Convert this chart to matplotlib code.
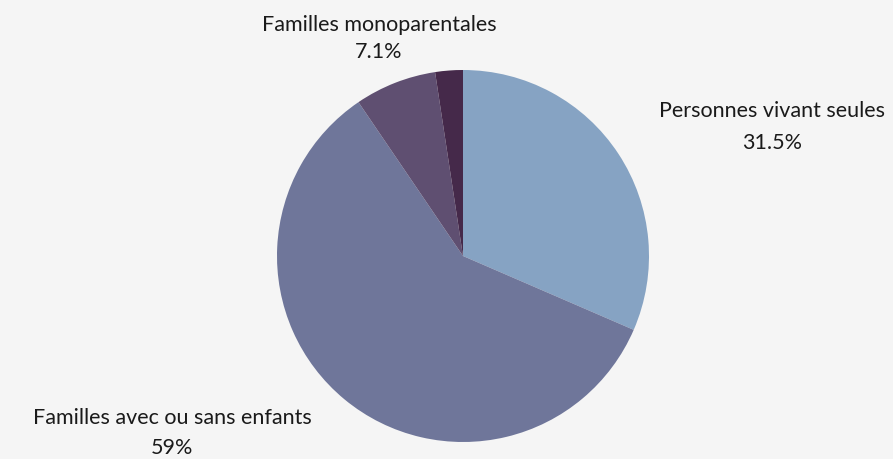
import matplotlib
matplotlib.use("Agg")
import matplotlib.pyplot as plt

categories = ["Personnes vivant seules", "Familles avec ou sans enfants", "Familles monoparentales", "Autres"]
values = [31.5, 59.0, 7.1, 2.4]
value_labels = ["31.5%", "59%", "7.1%", None]
colors = ["#86A3C3", "#6F769A", "#5F4F71", "#45294A"]

W, H = 893, 459
fig = plt.figure(figsize=(W / 100, H / 100), dpi=100)
fig.patch.set_facecolor("#F5F5F5")
ax = fig.add_axes([0, 0, 1, 1])
ax.set_facecolor("#F5F5F5")
ax.axis("off")

ax.pie(values, colors=colors, startangle=90, counterclock=False,
       center=(463, H - 256), radius=186, wedgeprops=dict(linewidth=0))
ax.set_xlim(0, W)
ax.set_ylim(0, H)
ax.set_aspect("equal")
ax.axis("off")

font = dict(family=["Lato", "DejaVu Sans"], fontsize=15.5, color="#1a1a1a",
            ha="center", va="center")
label_pos = {0: (772, 111, 143), 1: (172, 418, 448), 2: (379, 25, 52)}
for i, (x, y1, y2) in label_pos.items():
    fig.text(x / W, 1 - y1 / H, categories[i], **font)
    fig.text(x / W, 1 - y2 / H, value_labels[i], **font)

fig.savefig("out.png", dpi=100, facecolor=fig.get_facecolor())
